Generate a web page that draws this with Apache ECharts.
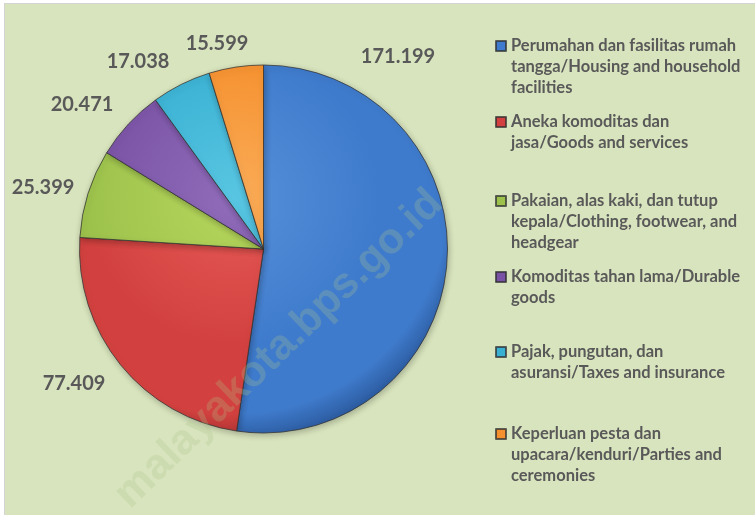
<!DOCTYPE html>
<html lang="id">
<head>
	<meta charset="UTF-8">
	<title>Pengeluaran non makanan</title>
	<script src="https://cdn.jsdelivr.net/npm/echarts@6/dist/echarts.min.js"></script>
	<style>
		html, body { margin: 0; padding: 0; background: #fff; }
		#chart {
			position: absolute; left: 4px; top: 3px;
			width: 751px; height: 512px;
			border-left: 1px solid #d4d4d4; border-top: 1px solid #d4d4d4;
			box-sizing: border-box;
		}
	</style>
</head>
<body>
<div id="chart"></div>
<script>
	// data
	var categories = [
		'Perumahan dan fasilitas rumah\ntangga/Housing and household\nfacilities',
		'Aneka komoditas dan\njasa/Goods and services',
		'Pakaian, alas kaki, dan tutup\nkepala/Clothing, footwear, and\nheadgear',
		'Komoditas tahan lama/Durable\ngoods',
		'Pajak, pungutan, dan\nasuransi/Taxes and insurance',
		'Keperluan pesta dan\nupacara/kenduri/Parties and\nceremonies'
	];
	var values = [171199, 77409, 25399, 20471, 17038, 15599];

	// light, base, dark
	var colors = [
		['#5690da', '#3f7bcc', '#2b5a9e'],
		['#e65a56', '#d2413f', '#a53130'],
		['#b6d65c', '#9dc24c', '#77973a'],
		['#906cba', '#7a52a5', '#5a3b7e'],
		['#58c6e2', '#39b0d2', '#2886a2'],
		['#faac58', '#f5902e', '#c46d20']
	];

	// label anchors (text centres inside the chart box)
	var labelAt = [[393, 53], [69, 380], [38, 184], [77, 101], [133, 58], [212, 40]];
	// first-line centres of the legend entries
	var legendY = [42, 118, 197, 273, 348, 430];

	var cx = 258.5, cy = 245, r = 184;
	var lh = 21;

	function fmt(v) {
		return String(v).replace(/\B(?=(\d{3})+(?!\d))/g, '.');
	}

	var chart = echarts.init(document.getElementById('chart'));

	var pieData = values.map(function (v, i) {
		return {
			name: categories[i],
			value: v,
			itemStyle: {
				color: new echarts.graphic.RadialGradient(cx - 30, cy - 50, r + 60, [
					{offset: 0, color: colors[i][0]},
					{offset: 0.6, color: colors[i][1]},
					{offset: 0.88, color: colors[i][1]},
					{offset: 1, color: colors[i][2]}
				], true)
			}
		};
	});

	// one legend per entry so that the uneven spacing can be kept;
	// leading blank lines keep the marker level with the first text line
	var legends = categories.map(function (name, i) {
		var n = name.split('\n').length;
		var pad = new Array(n).join('\n');
		return {
			data: [{name: name, itemStyle: {color: colors[i][1]}}],
			left: 490,
			top: legendY[i] - (2 * n - 1) * lh / 2,
			padding: 0,
			itemWidth: 10,
			itemHeight: 10,
			icon: 'rect',
			selectedMode: false,
			formatter: function (s) { return pad + s; },
			textStyle: {
				fontFamily: 'Lato',
				fontWeight: 'bold',
				fontSize: 16.5,
				color: '#595959',
				lineHeight: lh
			}
		};
	});

	chart.setOption({
		backgroundColor: '#d8e4bd',
		animation: false,
		legend: legends,
		series: [{
			type: 'pie',
			center: [cx, cy],
			radius: r,
			startAngle: 90,
			clockwise: true,
			emphasis: {disabled: true},
			itemStyle: {
				borderColor: 'rgba(50,50,50,0.75)',
				borderWidth: 1,
				shadowBlur: 6,
				shadowColor: 'rgba(0,0,0,0.25)',
				shadowOffsetX: 1,
				shadowOffsetY: 2
			},
			label: {
				show: true,
				position: 'outside',
				overflow: 'none',
				formatter: function (p) { return fmt(p.value); },
				fontFamily: 'Lato',
				fontWeight: 'bold',
				fontSize: 20,
				color: '#595959'
			},
			labelLine: {show: false},
			labelLayout: function (p) {
				var pos = labelAt[p.dataIndex];
				return {x: pos[0], y: pos[1], align: 'center', verticalAlign: 'middle'};
			},
			data: pieData
		}],
		graphic: [{
			type: 'text',
			z: 100,
			x: 274,
			y: 345,
			rotation: 44 * Math.PI / 180,
			style: {
				text: 'malayakota.bps.go.id',
				font: 'bold 43px "Liberation Sans", Arial, sans-serif',
				fill: 'rgba(175,198,140,0.26)',
				align: 'center',
				verticalAlign: 'middle'
			}
		}]
	});

	window.onresize = function () {
		chart.resize();
	};
</script>
</body>
</html>
